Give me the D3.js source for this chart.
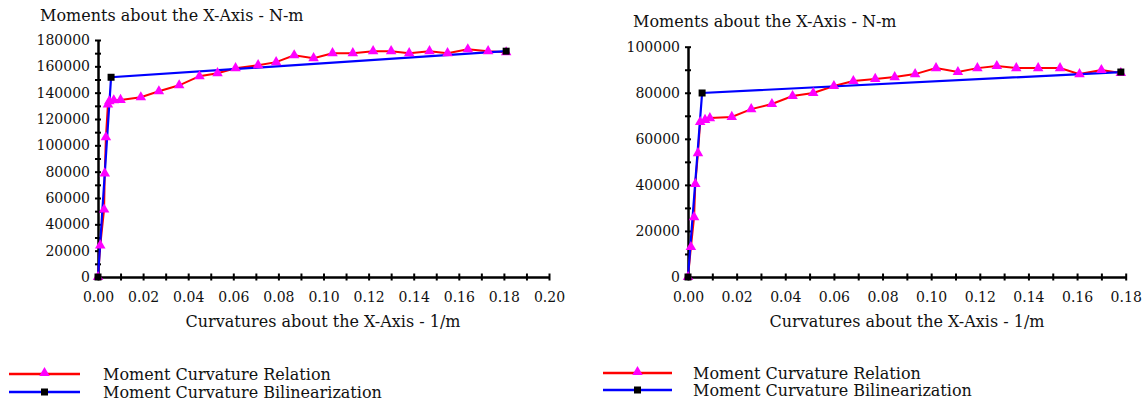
<!DOCTYPE html>
<html>
<head>
<meta charset="utf-8">
<script src="https://cdn.jsdelivr.net/npm/d3@7"></script>
<style>
  body { margin: 0; background: #fff; }
  text { font-family: "DejaVu Serif", "Liberation Serif", serif; fill: #111; }
</style>
</head>
<body>
<svg id="chart" width="1147" height="402"></svg>
<script>
// left panel data
const leftCurv = [0, 0.001, 0.0027, 0.003, 0.0035, 0.0044, 0.005, 0.007, 0.010, 0.019, 0.027, 0.036, 0.045, 0.053,
  0.061, 0.071, 0.079, 0.087, 0.0956, 0.104, 0.113, 0.122, 0.130, 0.138, 0.147, 0.155, 0.164, 0.173, 0.181];
const leftMoment = [0, 24000, 51300, 78700, 106100, 131000, 133500, 134200, 134500, 136500, 141100, 145600, 152500, 154800,
  158600, 160900, 163200, 168400, 166200, 170000, 170000, 171500, 171500, 170000, 171500, 170000, 173000, 171500, 170700];
const leftBiCurv = [0, 0.0058, 0.181];
const leftBiMoment = [0, 151700, 171500];

// right panel data
const rightCurv = [0, 0.0012, 0.0025, 0.003, 0.0041, 0.005, 0.007, 0.009, 0.018, 0.026, 0.0345, 0.043, 0.0515, 0.060,
  0.068, 0.077, 0.085, 0.0934, 0.102, 0.111, 0.119, 0.127, 0.135, 0.144, 0.153, 0.161, 0.170, 0.178];
const rightMoment = [0, 13000, 26000, 40400, 53800, 67300, 68200, 69000, 69500, 72900, 75100, 78600, 79900, 82900,
  85100, 86000, 86800, 88100, 90700, 89000, 90700, 91600, 90700, 90700, 90700, 88100, 89900, 88600];
const rightBiCurv = [0, 0.0058, 0.178];
const rightBiMoment = [0, 79900, 89000];

const seriesNames = ["Moment Curvature Relation", "Moment Curvature Bilinearization"];
const yTitle = "Moments about the X-Axis - N-m";
const xTitle = "Curvatures about the X-Axis - 1/m";

const svg = d3.select("#chart");
svg.append("rect").attr("width", 1147).attr("height", 402).attr("fill", "#fff");

function drawPanel(p) {
  const x = d3.scaleLinear().domain([0, p.xMax]).range([p.x0, p.x1]);
  const y = d3.scaleLinear().domain([0, p.yMax]).range([277, p.yTop]);
  const g = svg.append("g");

  // y axis: ticks every 10000, labels every 20000
  const yTicks = d3.range(0, p.yMax + 1, 10000);
  const ya = g.append("g").attr("transform", `translate(${p.x0},0)`)
    .call(d3.axisLeft(y).tickValues(yTicks).tickSize(0).tickSizeOuter(0).tickPadding(8)
      .tickFormat(d => (d % 20000 === 0 ? d3.format("d")(d) : "")));
  ya.select(".domain").attr("stroke", "#000").attr("stroke-width", 2.5);
  ya.selectAll(".tick line").attr("x1", -3).attr("x2", 3).attr("stroke", "#000").attr("stroke-width", 2);
  ya.selectAll(".tick text").style("font-size", "14px").attr("fill", "#111");

  // x axis: ticks every 0.01, labels every 0.02
  const xTicks = d3.range(0, Math.round(p.xMax * 100) + 1).map(i => i / 100);
  const xa = g.append("g").attr("transform", "translate(0,277)")
    .call(d3.axisBottom(x).tickValues(xTicks).tickSize(0).tickSizeOuter(0).tickPadding(15)
      .tickFormat((d, i) => (i % 2 === 0 ? d3.format(".2f")(d) : "")));
  xa.select(".domain").attr("stroke", "#000").attr("stroke-width", 2.5);
  xa.selectAll(".tick line").attr("y1", -3.5).attr("y2", 3.5).attr("stroke", "#000").attr("stroke-width", 2);
  xa.selectAll(".tick text").style("font-size", "14px").attr("fill", "#111");

  g.append("text").attr("x", p.titleX).attr("y", p.titleY).style("font-size", "16px").text(yTitle);
  g.append("text").attr("x", p.xTitleX).attr("y", 327).attr("text-anchor", "middle")
    .style("font-size", "16px").text(xTitle);

  const rel = p.curv.map((c, i) => [c, p.moment[i]]);
  const bi = p.biCurv.map((c, i) => [c, p.biMoment[i]]);
  const line = d3.line().x(d => x(d[0])).y(d => y(d[1]));

  g.append("path").datum(rel).attr("d", line).attr("fill", "none").attr("stroke", "#ff0000").attr("stroke-width", 2);
  g.append("path").datum(bi).attr("d", line).attr("fill", "none").attr("stroke", "#0000ff").attr("stroke-width", 2.2);

  const tri = d3.symbol().type(d3.symbolTriangle).size(48);
  g.selectAll(".tri").data(rel).enter().append("path")
    .attr("transform", d => `translate(${x(d[0])},${y(d[1])})`)
    .attr("d", tri).attr("fill", "#ff00ff");
  g.selectAll(".sq").data(bi).enter().append("rect")
    .attr("x", d => x(d[0]) - 3.5).attr("y", d => y(d[1]) - 3.5)
    .attr("width", 7).attr("height", 7).attr("fill", "#000");

  // legend
  const lg = svg.append("g");
  seriesNames.forEach((name, i) => {
    const ly = p.legY[i];
    lg.append("line").attr("x1", p.legX0).attr("x2", p.legX1).attr("y1", ly).attr("y2", ly)
      .attr("stroke", i === 0 ? "#ff0000" : "#0000ff").attr("stroke-width", 2.5);
    const cx = (p.legX0 + p.legX1) / 2;
    if (i === 0) {
      lg.append("path").attr("transform", `translate(${cx},${ly - 1})`).attr("d", tri).attr("fill", "#ff00ff");
    } else {
      lg.append("rect").attr("x", cx - 3.5).attr("y", ly - 3.5).attr("width", 7).attr("height", 7).attr("fill", "#000");
    }
    lg.append("text").attr("x", p.legTextX).attr("y", ly + 6).style("font-size", "16px").text(name);
  });
}

drawPanel({
  curv: leftCurv, moment: leftMoment, biCurv: leftBiCurv, biMoment: leftBiMoment,
  xMax: 0.20, yMax: 180000, x0: 98, x1: 549, yTop: 40,
  titleX: 40, titleY: 21, xTitleX: 323,
  legX0: 9, legX1: 80, legY: [374, 392], legTextX: 103
});
drawPanel({
  curv: rightCurv, moment: rightMoment, biCurv: rightBiCurv, biMoment: rightBiMoment,
  xMax: 0.18, yMax: 100000, x0: 688, x1: 1125.7, yTop: 46.7,
  titleX: 633, titleY: 27, xTitleX: 907,
  legX0: 603, legX1: 672, legY: [373, 390], legTextX: 693
});
</script>
</body>
</html>
